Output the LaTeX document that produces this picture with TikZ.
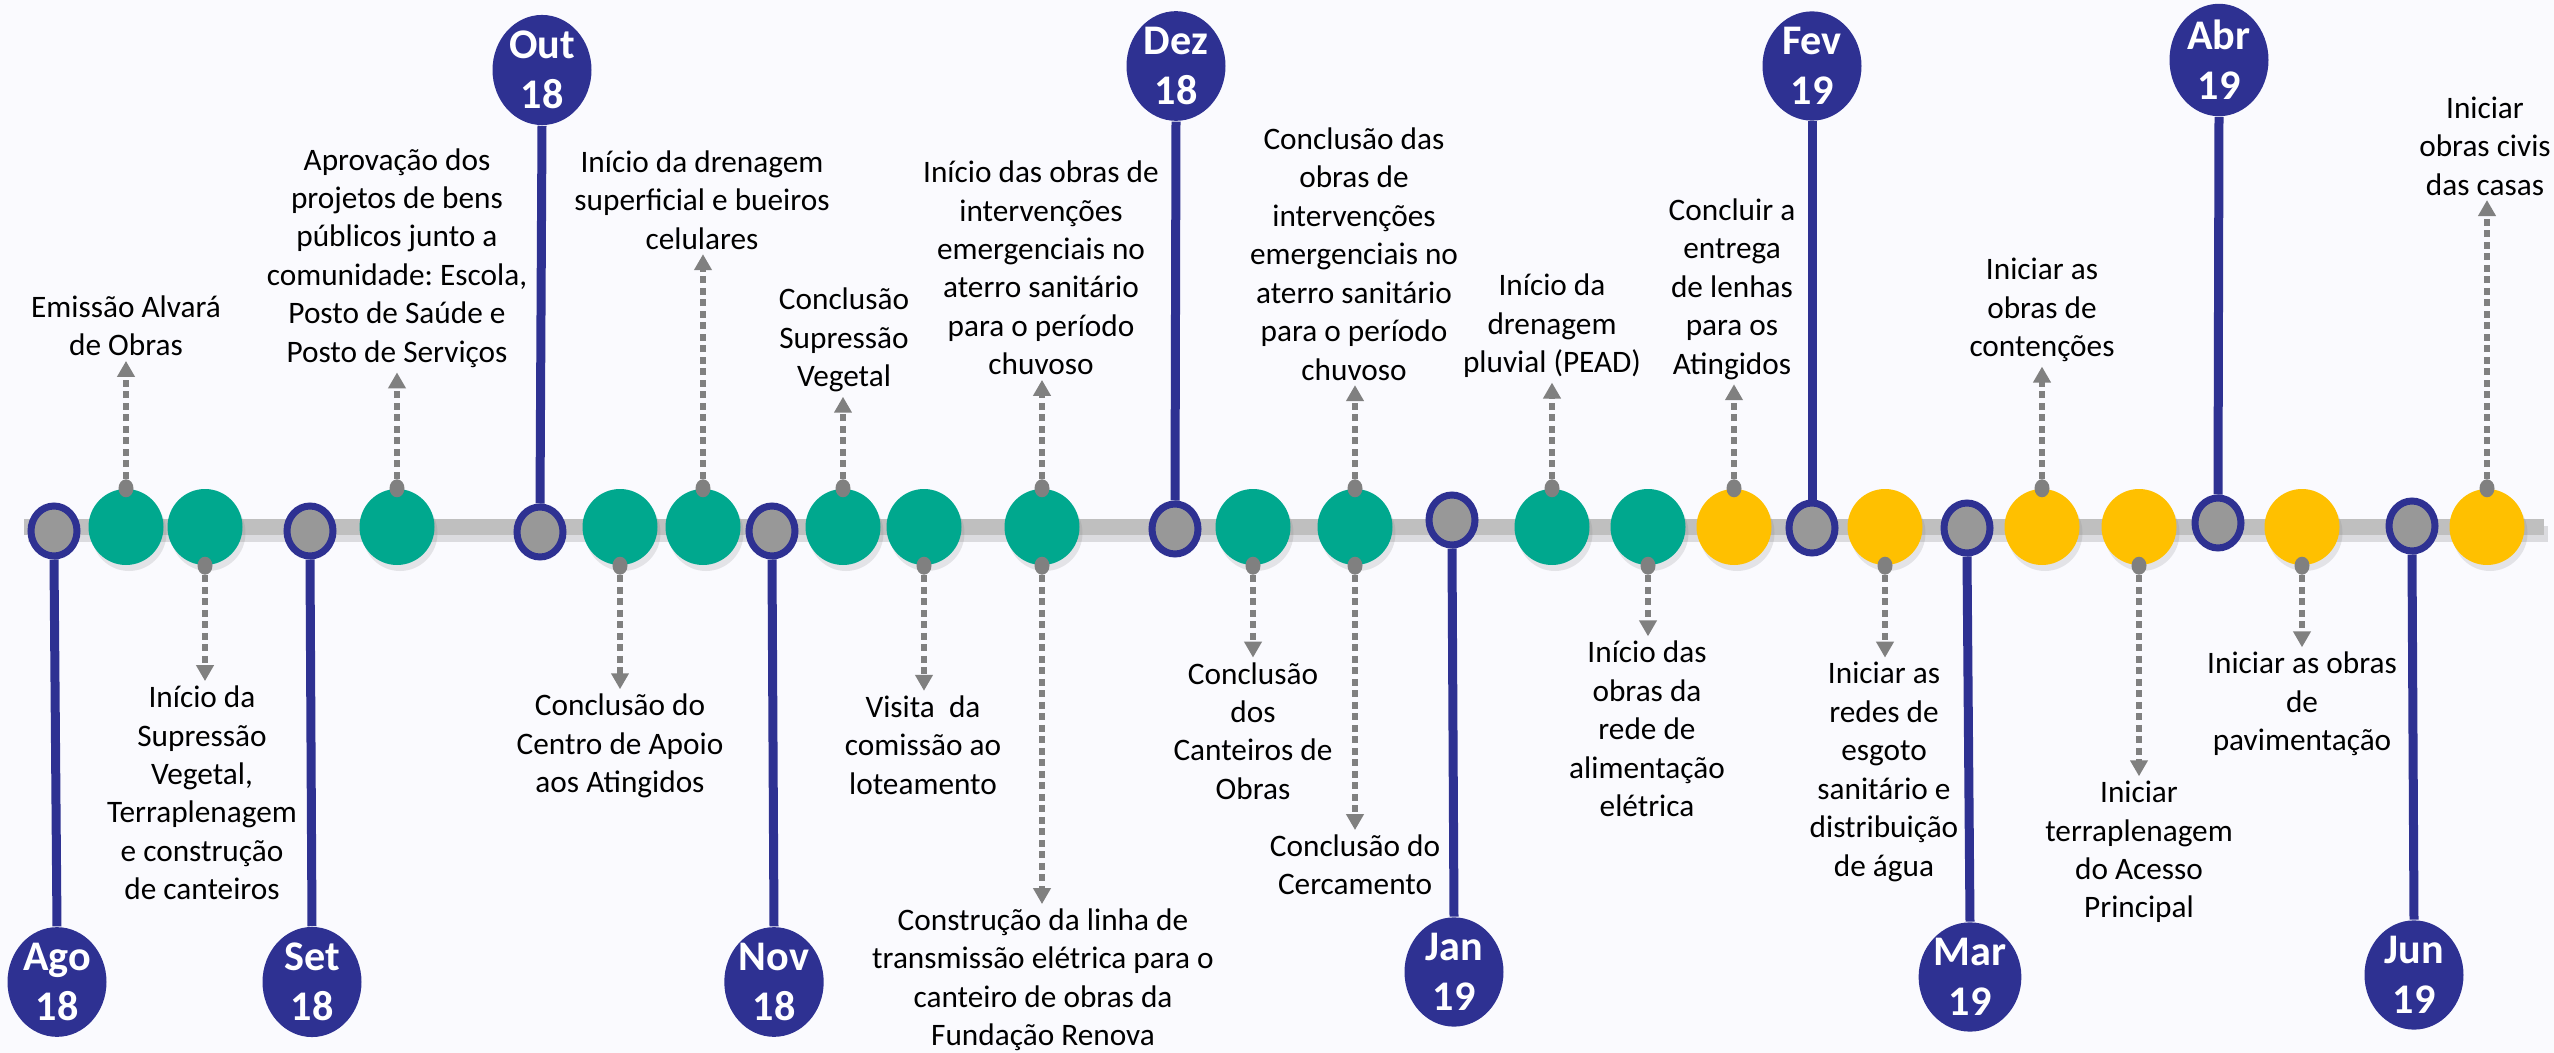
\documentclass[tikz,border=0pt]{standalone}
\usepackage{fontspec}
\setmainfont{Carlito}
\frenchspacing
\usetikzlibrary{arrows.meta, shapes.geometric, shadows}

\definecolor{fundo}{RGB}{250,250,254}
\definecolor{mesazul}{RGB}{46,49,146}
\definecolor{evverde}{RGB}{0,168,142}
\definecolor{evamarelo}{RGB}{255,192,0}
\definecolor{barra}{RGB}{191,191,191}
\definecolor{marcacinza}{RGB}{152,152,152}
\definecolor{setacinza}{RGB}{128,128,128}

\begin{document}
\begin{tikzpicture}[x=0.1mm, y=-0.1mm,
    mes/.style={ellipse, draw=mesazul, line width=0.7mm, fill=marcacinza,
        minimum width=4.6mm, minimum height=5mm, inner sep=0pt},
    rotulo/.style={ellipse, fill=mesazul, text=white, align=center,
        font=\bfseries\fontsize{12}{14.2}\selectfont,
        minimum width=9.9mm, minimum height=10.6mm, inner sep=0pt},
    haste/.style={draw=mesazul, line width=0.9mm},
    evento/.style={ellipse, minimum width=7.5mm, minimum height=7.6mm, inner sep=0pt,
        drop shadow={opacity=0.18, shadow xshift=0.3mm, shadow yshift=-0.6mm}},
    ponto/.style={ellipse, fill=setacinza, minimum width=1.5mm, minimum height=1.8mm, inner sep=0pt},
    seta/.style={draw=setacinza, line width=0.65mm, dash pattern=on 0.7mm off 0.45mm,
        -{Triangle[width=1.7mm, length=1.6mm]}},
    texto/.style={align=center, font=\fontsize{8.9}{10.95}\selectfont, inner sep=0.4mm}
  ]
  \useasboundingbox (0,0) rectangle (2554,1053);
  \fill[fundo] (0,0) rectangle (2554,1053);

  % linha do tempo
  \draw[line width=1.6mm, black, opacity=0.12] (28,534) -- (2548,534);
  \draw[line width=1.6mm, barra] (24,527) -- (2544,527);

  % meses
  \foreach \n/\x/\y/\lx/\ly/\a/\b/\m/\ano in {
      ago/54/531/57/982/south/north/Ago/18,
      set/310/531/312/982/south/north/Set/18,
      out/540/532/542/70/north/south/Out/18,
      nov/772/531/774/982/south/north/Nov/18,
      dez/1175/529/1176/66/north/south/Dez/18,
      jan/1452/520/1454/972/south/north/Jan/19,
      fev/1812/528/1812/66/north/south/Fev/19,
      mar/1967/528/1970/977/south/north/Mar/19,
      abr/2218/523/2219/60/north/south/Abr/19,
      jun/2412/526/2414/975/south/north/Jun/19} {
    \node[mes] (m-\n) at (\x,\y) {};
    \node[rotulo] (r-\n) at (\lx,\ly) {\m\\\ano};
    \draw[haste] (m-\n.\a) -- (r-\n.\b);
  }

  % eventos
  \foreach \n/\x/\c in {1/126/evverde, 2/205/evverde, 3/397/evverde, 4/620/evverde,
      5/703/evverde, 6/843/evverde, 7/924/evverde, 8/1042/evverde, 9/1253/evverde,
      10/1355/evverde, 11/1552/evverde, 12/1648/evverde, 13/1734/evamarelo,
      14/1885/evamarelo, 15/2042/evamarelo, 16/2139/evamarelo, 17/2302/evamarelo,
      18/2487/evamarelo} {
    \node[evento, fill=\c] (e\n) at (\x,527) {};
  }

  % textos acima
  \node[texto] (t1) at (126,326) {Emissão Alvará\\de Obras};
  \node[texto] (t3) at (397,258) {Aprovação dos\\projetos de bens\\públicos junto a\\comunidade: Escola,\\Posto de Saúde e\\Posto de Serviços};
  \node[texto] (t5) at (702,200) {Início da drenagem\\superficial e bueiros\\celulares};
  \node[texto] (t6) at (844,340) {Conclusão\\Supressão\\Vegetal};
  \node[texto] (t8a) at (1041,268) {Início das obras de\\intervenções\\emergenciais no\\aterro sanitário\\para o período\\chuvoso};
  \node[texto] (t10a) at (1354,254) {Conclusão das\\obras de\\intervenções\\emergenciais no\\aterro sanitário\\para o período\\chuvoso};
  \node[texto] (t11) at (1552,326) {Início da\\drenagem\\pluvial (PEAD)};
  \node[texto] (t13) at (1732,289) {Concluir a\\entrega\\de lenhas\\para os\\Atingidos};
  \node[texto] (t15) at (2042,310) {Iniciar as\\obras de\\contenções};
  \node[texto] (t18) at (2485,146) {Iniciar\\obras civis\\das casas};

  % textos abaixo
  \node[texto] (t2) at (202,793) {Início da\\Supressão\\Vegetal,\\Terraplenagem\\e construção\\de canteiros};
  \node[texto] (t4) at (620,746) {Conclusão do\\Centro de Apoio\\aos Atingidos};
  \node[texto] (t7) at (923,745) {Visita\ \ da\\comissão ao\\loteamento};
  \node[texto] (t8b) at (1043,980) {Construção da linha de\\transmissão elétrica para o\\canteiro de obras da\\Fundação Renova};
  \node[texto] (t9) at (1253,731) {Conclusão\\dos\\Canteiros de\\Obras};
  \node[texto] (t10b) at (1355,865) {Conclusão do\\Cercamento};
  \node[texto] (t12) at (1647,729) {Início das\\obras da\\rede de\\alimentação\\elétrica};
  \node[texto] (t14) at (1884,772) {Iniciar as\\redes de\\esgoto\\sanitário e\\distribuição\\de água};
  \node[texto] (t16) at (2139,852) {Iniciar\\terraplenagem\\do Acesso\\Principal};
  \node[texto] (t17) at (2302,704) {Iniciar as obras\\de\\pavimentação};

  % setas
  \foreach \e/\t in {1/t1, 3/t3, 5/t5, 6/t6, 8/t8a, 10/t10a, 11/t11, 13/t13, 15/t15, 18/t18} {
    \node[ponto] (pa\e) at (e\e.north) {};
    \draw[seta] (pa\e) -- (pa\e |- \t.south);
  }
  \foreach \e/\t in {2/t2, 4/t4, 7/t7, 8/t8b, 9/t9, 10/t10b, 12/t12, 14/t14, 16/t16, 17/t17} {
    \node[ponto] (pb\e) at (e\e.south) {};
    \draw[seta] (pb\e) -- (pb\e |- \t.north);
  }
\end{tikzpicture}
\end{document}
